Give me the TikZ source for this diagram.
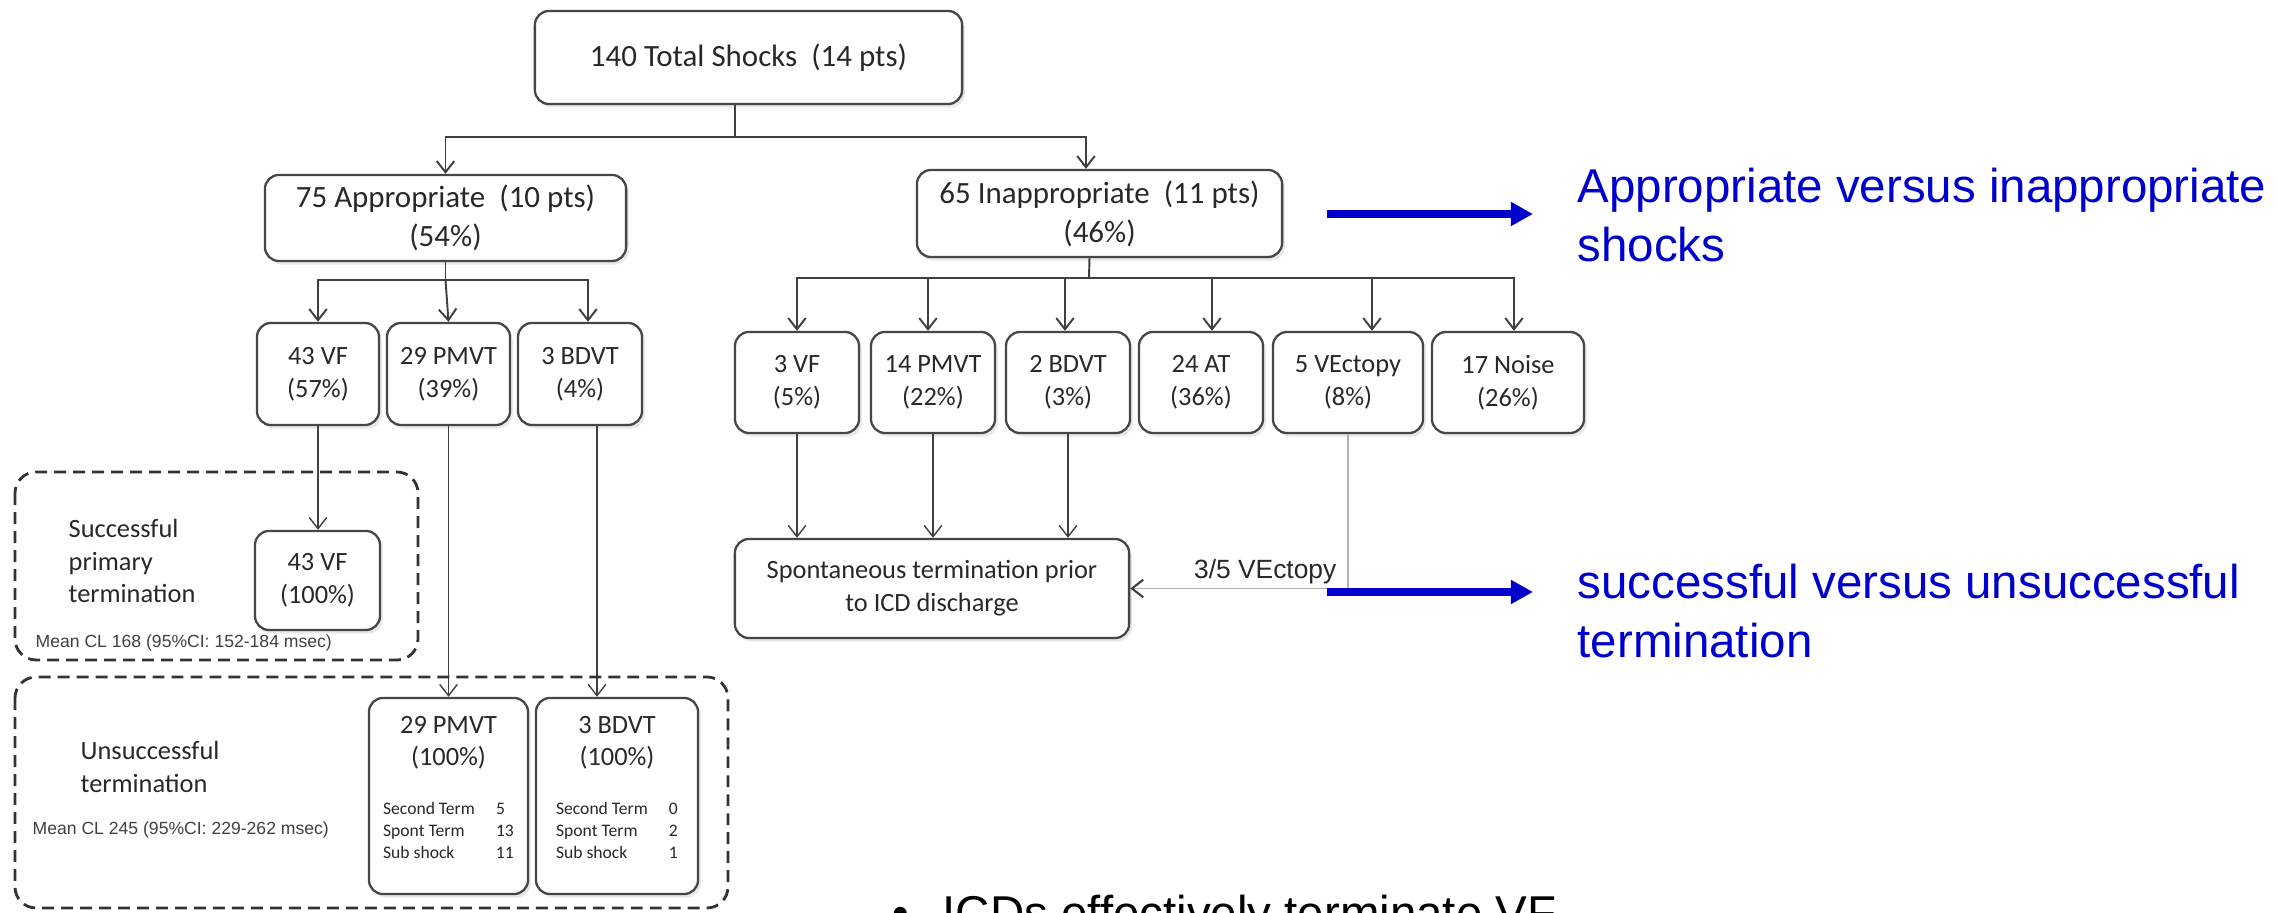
\documentclass[tikz,border=0pt]{standalone}
\usepackage{fontspec}
\setmainfont{Carlito}
\newfontfamily\arialfont{Liberation Sans}
\usepackage{xcolor}
\usetikzlibrary{arrows.meta,shadows,calc}
\definecolor{boxline}{RGB}{70,70,70}
\definecolor{boxtext}{RGB}{40,40,40}
\definecolor{noteblue}{RGB}{0,0,204}
\tikzset{shock/.style={draw=boxline,line width=0.65pt,rounded corners=4pt,fill=white,text=boxtext,align=center,inner sep=0pt,
  drop shadow={shadow xshift=0.8pt,shadow yshift=-1pt,opacity=0.18}}}
\tikzset{bigfont/.style={font=\fontsize{8.8}{11}\selectfont}}
\tikzset{midfont/.style={font=\fontsize{7.5}{9.3}\selectfont}}
\tikzset{conn/.style={draw=black!75,line width=0.55pt,-{Straight Barb[length=3.2pt,width=5pt]}}}
\tikzset{longconn/.style={conn,line width=0.4pt}}
\tikzset{faintconn/.style={draw=black!30,line width=0.45pt,-{Straight Barb[length=3.2pt,width=5pt,color=black!75,line width=0.6pt]}}}
\tikzset{group/.style={draw=black!80,line width=0.8pt,dash pattern=on 3.4pt off 2pt,rounded corners=6pt}}
\tikzset{grouptext/.style={align=left,text=boxtext,inner sep=0pt,font=\fontsize{7.5}{9.3}\selectfont}}
\tikzset{meancl/.style={text=black!75,inner sep=0pt,font=\arialfont\fontsize{5}{6}\selectfont}}
\tikzset{note/.style={text=noteblue,align=left,inner sep=0pt,font=\arialfont\fontsize{13.5}{16.8}\selectfont}}
\tikzset{notearrow/.style={draw=noteblue,line width=2pt,-{Triangle[length=6.3pt,width=6.5pt]}}}
\newcommand{\termstats}[3]{{\fontsize{5}{6.3}\selectfont
  \begin{tabular}[t]{@{}l@{\hspace{6pt}}l@{}}Second Term & #1\\ Spont Term & #2\\ Sub shock & #3\rule[-5pt]{0pt}{0pt}\end{tabular}}}

\begin{document}
\begin{tikzpicture}[x=0.01cm,y=-0.01cm]
            \useasboundingbox (0,0) rectangle (2277,913);
            \clip (0,0) rectangle (2277,913);
            \fill[white] (0,0) rectangle (2277,913);

            % draw the boxes of the tree
            \node[shock,bigfont,minimum width=4.27cm,minimum height=0.93cm] (total) at (748.5,57.5) {140 Total Shocks~ (14 pts)};
            \node[shock,bigfont,minimum width=3.61cm,minimum height=0.86cm] (appr) at (445.5,218) {75 Appropriate~ (10 pts)\\(54\%)};
            \node[shock,bigfont,minimum width=3.65cm,minimum height=0.87cm] (inappr) at (1099.5,213.5) {65 Inappropriate~ (11 pts)\\(46\%)};

            \node[shock,midfont,minimum width=1.22cm,minimum height=1.02cm] (vfA) at (318,374) {43 VF\\(57\%)};
            \node[shock,midfont,minimum width=1.23cm,minimum height=1.02cm] (pmvtA) at (448.5,374) {29 PMVT\\(39\%)};
            \node[shock,midfont,minimum width=1.24cm,minimum height=1.02cm] (bdvtA) at (580,374) {3 BDVT\\(4\%)};

            \node[shock,midfont,minimum width=1.24cm,minimum height=1.01cm] (vfI) at (797,382.5) {3 VF\\(5\%)};
            \node[shock,midfont,minimum width=1.24cm,minimum height=1.01cm] (pmvtI) at (933,382.5) {14 PMVT\\(22\%)};
            \node[shock,midfont,minimum width=1.24cm,minimum height=1.01cm] (bdvtI) at (1068,382.5) {2 BDVT\\(3\%)};
            \node[shock,midfont,minimum width=1.24cm,minimum height=1.01cm] (atI) at (1201,382.5) {24 AT\\(36\%)};
            \node[shock,midfont,minimum width=1.50cm,minimum height=1.01cm] (ectI) at (1348,382.5) {5 VEctopy\\(8\%)};
            \node[shock,midfont,minimum width=1.52cm,minimum height=1.01cm] (noiseI) at (1508,382.5) {17 Noise\\(26\%)};

            \node[shock,midfont,minimum width=3.94cm,minimum height=0.99cm] (spont) at (932,588.5) {Spontaneous termination prior\\to ICD discharge};
            \node[shock,midfont,minimum width=1.25cm,minimum height=0.99cm] (vfS) at (317.5,580.5) {43 VF\\(100\%)};
            \node[shock,midfont,minimum width=1.59cm,minimum height=1.96cm] (pmvtU) at (448.5,796) {29 PMVT\\(100\%)\\[4.4pt]\termstats{5}{13}{11}};
            \node[shock,midfont,minimum width=1.62cm,minimum height=1.96cm] (bdvtU) at (617,796) {3 BDVT\\(100\%)\\[4.4pt]\termstats{0}{2}{1}};

            % draw the connectors
            \coordinate (topbus) at (735,137);
            \draw[draw=black!75,line width=0.55pt] ([xshift=-0.135cm]total.south) -- (topbus);
            \draw[conn] (topbus) -| (appr.north);
            \draw[conn] (topbus) -| ([xshift=-0.135cm]inappr.north);

            \coordinate (abus) at (445.5,280);
            \draw[draw=black!75,line width=0.55pt] (appr.south) -- (abus);
            \draw[conn] (abus) -| (vfA.north);
            \draw[conn] (abus) -- (pmvtA.north);
            \draw[conn] (abus) -| ([xshift=0.08cm]bdvtA.north);

            \coordinate (ibus) at (1089,278);
            \draw[draw=black!75,line width=0.55pt] ([xshift=-0.1cm]inappr.south) -- (ibus);
            \foreach \n/\dx in {vfI/0,pmvtI/-0.05,bdvtI/-0.03,atI/0.11,ectI/0.24,noiseI/0.06}
              \draw[conn] (ibus) -| ([xshift=\dx cm]\n.north);

            \draw[longconn] (vfA.south) -- (vfA.south |- vfS.north);
            \draw[longconn] (pmvtA.south) -- (pmvtA.south |- pmvtU.north);
            \draw[longconn] ([xshift=0.17cm]bdvtA.south) -- ([xshift=0.17cm]bdvtA.south |- bdvtU.north);
            \foreach \n in {vfI,pmvtI,bdvtI}
              \draw[longconn] (\n.south) -- (\n.south |- spont.north);
            \draw[faintconn] (ectI.south) |- node[pos=0.69,above,inner sep=1.2pt,text=boxtext,font=\arialfont\fontsize{7.5}{9}\selectfont] (ectlabel) {3/5 VEctopy} (spont.east);

            % draw the dashed groups
            \draw[group] (15,472) rectangle (418,660);
            \draw[group] (15,677) rectangle (728,908);
            \node[grouptext,anchor=west] (succtext) at (68,561) {Successful\\primary\\termination};
            \node[grouptext,anchor=west] (unsucctext) at (80,767) {Unsuccessful\\termination};
            \node[meancl,anchor=west] (clsucc) at (35,643) {Mean CL 168 (95\%CI: 152-184 msec)};
            \node[meancl,anchor=west] (clunsucc) at (32,830) {Mean CL 245 (95\%CI: 229-262 msec)};

            % the blue notes
            \node[note,anchor=west] (shocknote) at (1577,215) {Appropriate versus inappropriate\\shocks};
            \node[note,anchor=west] (termnote) at (1577,611) {successful versus unsuccessful\\termination};
            \coordinate (shockarrow) at (1327,214);
            \coordinate (termarrow) at (1327,592);
            \draw[notearrow,shorten >=0.44cm] (shockarrow) -- (shockarrow -| shocknote.west);
            \draw[notearrow,shorten >=0.44cm] (termarrow) -- (termarrow -| termnote.west);

            \node[anchor=base west,inner sep=0pt,font=\arialfont\fontsize{13.5}{16.8}\selectfont] (summary) at (892,930) {\makebox[14.2pt][l]{•}ICDs effectively terminate VF};
        \end{tikzpicture}
\end{document}
